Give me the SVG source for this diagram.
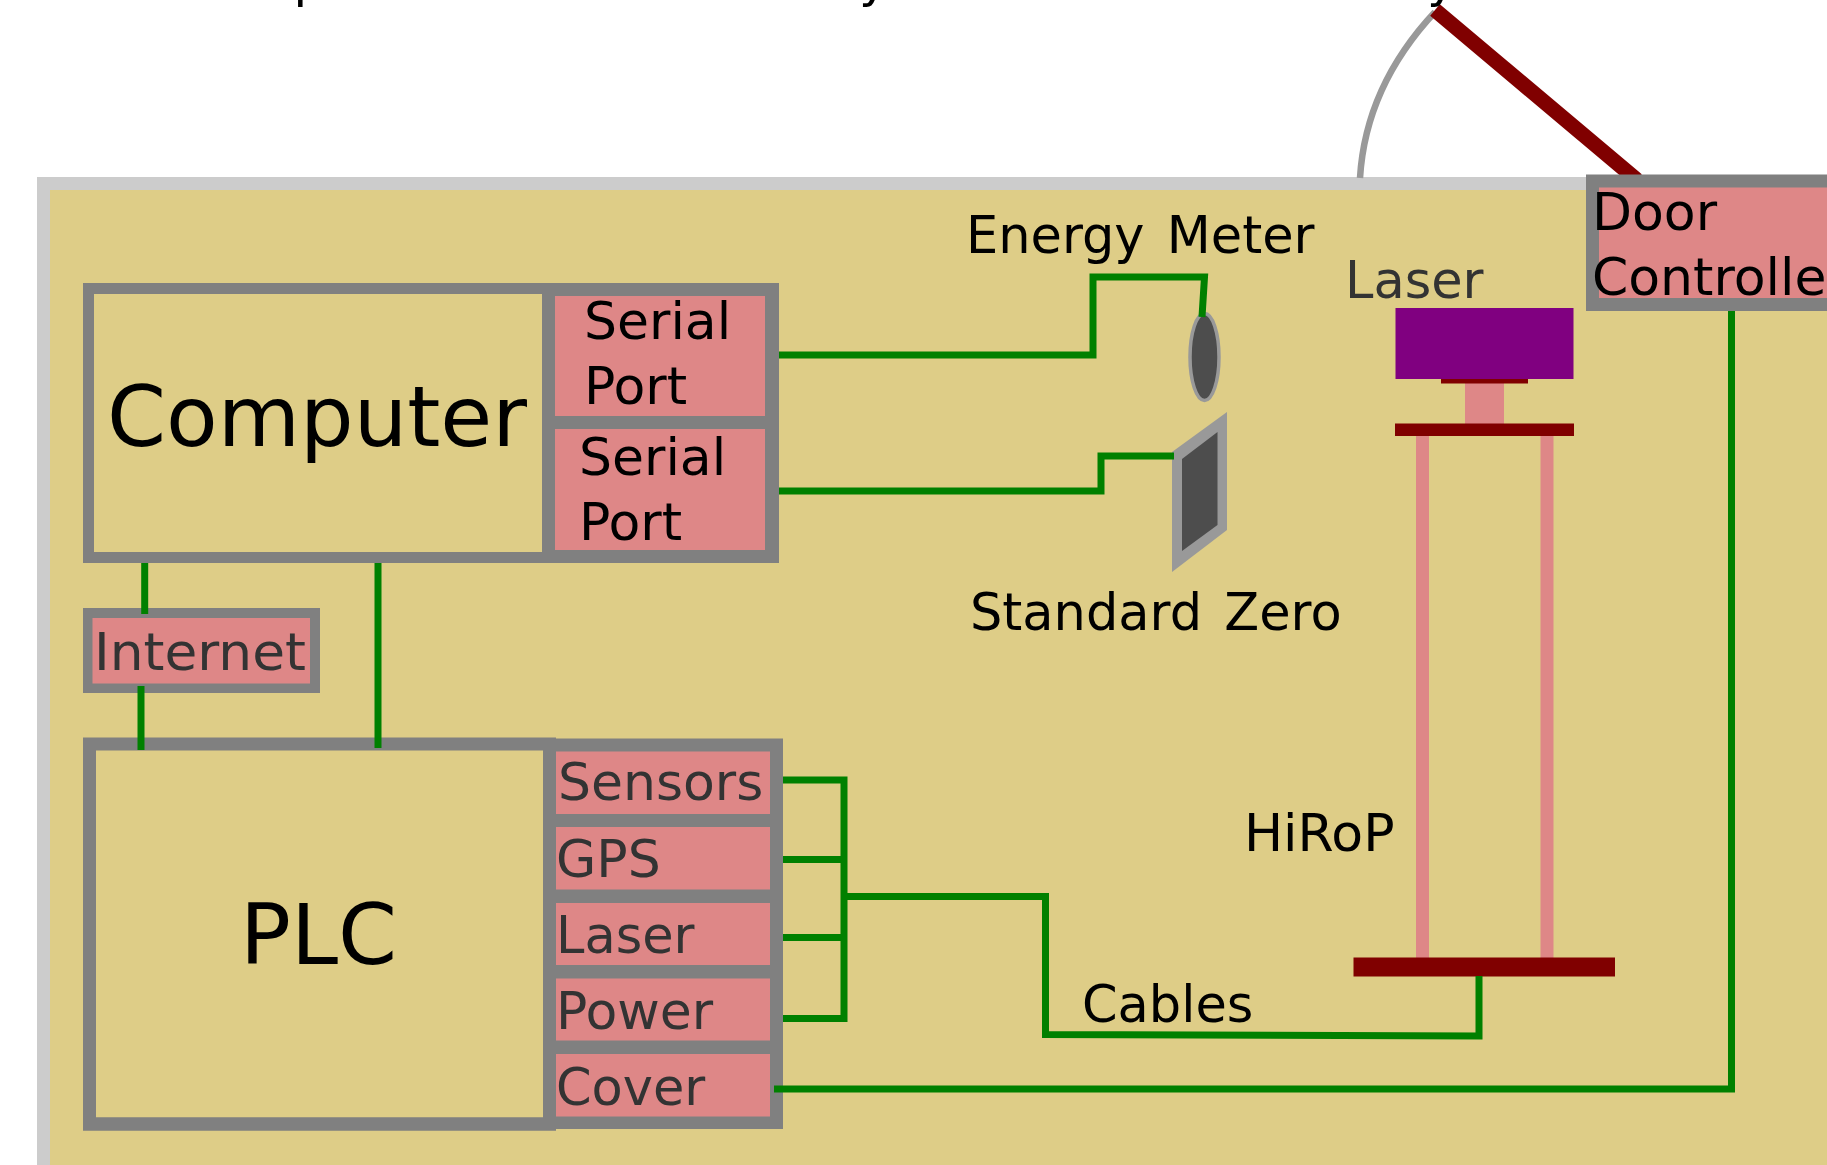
<svg xmlns="http://www.w3.org/2000/svg" width="1827" height="1165" viewBox="0 0 1827 1165">
<style>
text{font-family:"DejaVu Sans",Verdana,sans-serif;font-size:52px;fill:#000}
.d{fill:#333}
.big{font-size:84.500px}
.box{fill:#808080}
.pk{fill:#de8787}
.tan{fill:#decd87}
.dr{fill:#800000}
.w{fill:none;stroke:#008000;stroke-width:7}
.sp{font-size:51px;word-spacing:6px}
.s{font-size:51px}
</style>
<rect width="1827" height="1165" fill="#fff"/>
<g id="housing">
<rect x="37" y="177" width="1800" height="1000" fill="#ccc"/>
<rect x="50" y="190" width="1790" height="980" class="tan"/>
</g>
<g id="lid">
<path d="M1360 178C1364 112 1392 58 1435 12" fill="none" stroke="#999" stroke-width="6.500"/>
<path d="M1435 10L1637 180" fill="none" stroke="#800000" stroke-width="15"/>
</g>
<g id="clipped-title">
<text x="293.500" y="-3.500" style="font-size:50px">p</text>
<text x="859" y="-3.500" style="font-size:50px">y</text>
<text x="1427" y="-3.500" style="font-size:50px">y</text>
</g>
<g id="computer">
<path class="box" fill-rule="evenodd" d="M83 283H548V563H83ZM94 294V552H542V294Z"/>
<text class="big" x="107" y="446">Computer</text>
</g>
<g id="serial-port-1">
<rect class="box" x="542" y="283" width="237" height="146"/>
<rect class="pk" x="555" y="296" width="210" height="120"/>
<text x="584" y="339">Serial</text>
<text x="584" y="404">Port</text>
</g>
<g id="serial-port-2">
<rect class="box" x="542" y="416" width="237" height="147"/>
<rect class="pk" x="555" y="429" width="210" height="121"/>
<text x="579" y="475">Serial</text>
<text x="579" y="539.500">Port</text>
</g>
<g id="internet">
<rect class="box" x="83" y="608" width="237" height="85"/>
<rect class="pk" x="92.500" y="618" width="217.500" height="65.500"/>
<text class="d" x="94" y="670" textLength="212" lengthAdjust="spacingAndGlyphs">Internet</text>
</g>
<g id="plc">
<path class="box" fill-rule="evenodd" d="M83 737.500H556V1130.700H83ZM96 750.500V1117.300H543V750.500Z"/>
<text class="big" x="240" y="964">PLC</text>
</g>
<g id="plc-ports">
<rect class="box" x="543" y="738.500" width="240" height="390.500"/>
<rect class="pk" x="556" y="751.500" width="214" height="62.500"/>
<rect class="pk" x="556" y="827" width="214" height="62.500"/>
<rect class="pk" x="556" y="903" width="214" height="62"/>
<rect class="pk" x="556" y="978.500" width="214" height="62"/>
<rect class="pk" x="556" y="1054" width="214" height="62.500"/>
<text class="d" x="558" y="800">Sensors</text>
<text class="d" x="556" y="877">GPS</text>
<text class="d s" x="556" y="953">Laser</text>
<text class="d" x="556" y="1029">Power</text>
<text class="d s" x="556" y="1105">Cover</text>
</g>
<g id="door-controller">
<rect class="box" x="1586" y="174.500" width="260" height="136.500"/>
<rect class="pk" x="1599" y="187.500" width="240" height="110.500"/>
<text x="1592" y="230">Door</text>
<text x="1592" y="295">Controller</text>
</g>
<g id="energy-meter">
<ellipse cx="1204.500" cy="357" rx="14.500" ry="43.500" fill="#4d4d4d" stroke="#999" stroke-width="3.500"/>
<text class="sp" x="966" y="252.500">Energy Meter</text>
</g>
<g id="standard-zero">
<polygon points="1172,452 1227,412 1227,530 1172,572" fill="#999"/>
<polygon points="1182,459 1217.500,432 1217.500,525 1182,551" fill="#4d4d4d"/>
<text class="sp" x="970" y="630">Standard Zero</text>
</g>
<g id="hirop">
<rect class="pk" x="1416" y="436" width="13" height="522"/>
<rect class="pk" x="1540.500" y="436" width="13" height="522"/>
<rect class="pk" x="1465" y="383" width="39" height="41"/>
<rect style="fill:#800080" x="1395.500" y="308" width="178" height="71"/>
<rect class="dr" x="1441" y="379" width="87" height="4.500"/>
<rect class="dr" x="1395" y="423.500" width="179" height="12.500"/>
<rect class="dr" x="1353.500" y="957.500" width="261.500" height="19"/>
<text class="d s" x="1345" y="298">Laser</text>
<text x="1244" y="851">HiRoP</text>
<text class="s" x="1082" y="1022">Cables</text>
</g>
<g id="connectors">
<path class="w" d="M779 355H1093V277H1204.500L1202 317"/>
<path class="w" d="M779 491H1101V456H1174"/>
<path class="w" d="M144.700 563V614"/>
<path class="w" d="M141 686V750"/>
<path class="w" d="M378 563V748"/>
<path class="w" d="M783 780H844V1018.400H783"/>
<path class="w" d="M783 859.500H844"/>
<path class="w" d="M783 937.500H844"/>
<path class="w" d="M844 896.400H1045.500V1034.500L1479 1036V976"/>
<path class="w" d="M774 1089H1731.500V311"/>
</g>
</svg>
